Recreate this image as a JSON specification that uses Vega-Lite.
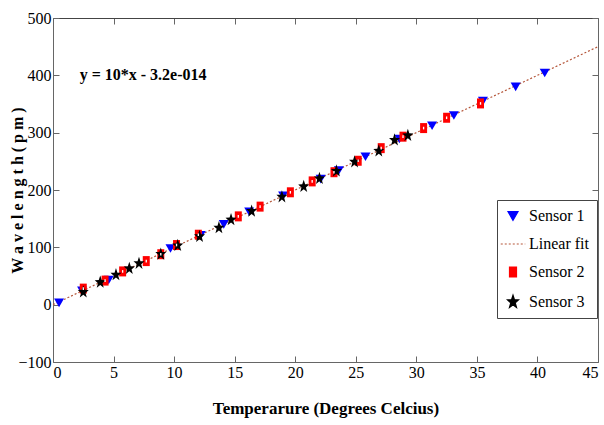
{
  "$schema": "https://vega.github.io/schema/vega-lite/v6.json",
  "autosize": "none",
  "width": 545,
  "height": 344,
  "padding": {"left": 53, "top": 18, "right": 6, "bottom": 63},
  "background": "white",
  "config": {
    "view": {"stroke": null},
    "font": "Liberation Serif",
    "legend": {"labelFont": "Liberation Serif, Times New Roman, serif", "labelFontSize": 16, "labelColor": "black"}
  },
  "datasets": {
    "fit": [
      {"temp": 0, "wl": 0, "series": "Linear fit"},
      {"temp": 45, "wl": 450, "series": "Linear fit"}
    ],
    "note": [
      {"temp": 2.2, "wl": 400, "label": "y = 10*x - 3.2e-014"}
    ],
    "pts": [
      {"temp": 0.5, "wl": 3, "series": "Sensor 1"},
      {"temp": 2.4, "wl": 24, "series": "Sensor 1"},
      {"temp": 4.6, "wl": 43, "series": "Sensor 1"},
      {"temp": 9.7, "wl": 98, "series": "Sensor 1"},
      {"temp": 12.2, "wl": 121, "series": "Sensor 1"},
      {"temp": 14.1, "wl": 140, "series": "Sensor 1"},
      {"temp": 16.2, "wl": 162, "series": "Sensor 1"},
      {"temp": 19.0, "wl": 190, "series": "Sensor 1"},
      {"temp": 22.1, "wl": 219, "series": "Sensor 1"},
      {"temp": 23.6, "wl": 234, "series": "Sensor 1"},
      {"temp": 25.8, "wl": 258, "series": "Sensor 1"},
      {"temp": 28.6, "wl": 289, "series": "Sensor 1"},
      {"temp": 31.3, "wl": 312, "series": "Sensor 1"},
      {"temp": 33.1, "wl": 330, "series": "Sensor 1"},
      {"temp": 35.5, "wl": 355, "series": "Sensor 1"},
      {"temp": 38.2, "wl": 380, "series": "Sensor 1"},
      {"temp": 40.6, "wl": 404, "series": "Sensor 1"},
      {"temp": 2.5, "wl": 28, "series": "Sensor 2"},
      {"temp": 4.3, "wl": 42, "series": "Sensor 2"},
      {"temp": 5.75, "wl": 58, "series": "Sensor 2"},
      {"temp": 7.7, "wl": 76, "series": "Sensor 2"},
      {"temp": 8.9, "wl": 88, "series": "Sensor 2"},
      {"temp": 10.2, "wl": 104, "series": "Sensor 2"},
      {"temp": 12.0, "wl": 122, "series": "Sensor 2"},
      {"temp": 15.3, "wl": 154, "series": "Sensor 2"},
      {"temp": 17.1, "wl": 171, "series": "Sensor 2"},
      {"temp": 19.6, "wl": 196, "series": "Sensor 2"},
      {"temp": 21.4, "wl": 215, "series": "Sensor 2"},
      {"temp": 23.2, "wl": 231, "series": "Sensor 2"},
      {"temp": 25.2, "wl": 251, "series": "Sensor 2"},
      {"temp": 27.1, "wl": 273, "series": "Sensor 2"},
      {"temp": 28.9, "wl": 293, "series": "Sensor 2"},
      {"temp": 30.6, "wl": 308, "series": "Sensor 2"},
      {"temp": 32.5, "wl": 326, "series": "Sensor 2"},
      {"temp": 35.3, "wl": 351, "series": "Sensor 2"},
      {"temp": 2.5, "wl": 22, "series": "Sensor 3"},
      {"temp": 3.9, "wl": 39, "series": "Sensor 3"},
      {"temp": 5.2, "wl": 52, "series": "Sensor 3"},
      {"temp": 6.3, "wl": 63, "series": "Sensor 3"},
      {"temp": 7.1, "wl": 72, "series": "Sensor 3"},
      {"temp": 8.9, "wl": 88, "series": "Sensor 3"},
      {"temp": 10.3, "wl": 103, "series": "Sensor 3"},
      {"temp": 12.1, "wl": 119, "series": "Sensor 3"},
      {"temp": 13.7, "wl": 134, "series": "Sensor 3"},
      {"temp": 14.7, "wl": 148, "series": "Sensor 3"},
      {"temp": 16.4, "wl": 163, "series": "Sensor 3"},
      {"temp": 18.9, "wl": 188, "series": "Sensor 3"},
      {"temp": 20.7, "wl": 206, "series": "Sensor 3"},
      {"temp": 22.0, "wl": 220, "series": "Sensor 3"},
      {"temp": 23.4, "wl": 233, "series": "Sensor 3"},
      {"temp": 24.9, "wl": 249, "series": "Sensor 3"},
      {"temp": 26.9, "wl": 268, "series": "Sensor 3"},
      {"temp": 28.2, "wl": 287, "series": "Sensor 3"},
      {"temp": 29.3, "wl": 295, "series": "Sensor 3"}
    ]
  },
  "resolve": {"axis": {"x": "independent", "y": "independent"}},
  "layer": [
    {
      "data": {"name": "fit"},
      "mark": {"type": "line", "strokeDash": [2, 2], "strokeWidth": 1.2},
      "encoding": {
        "x": {
          "field": "temp", "type": "quantitative",
          "scale": {"domain": [0, 45], "nice": false, "zero": false},
          "axis": {
            "orient": "bottom",
            "title": "Temperarure (Degrees Celcius)",
            "values": [0, 5, 10, 15, 20, 25, 30, 35, 40, 45],
            "grid": false,
            "domainColor": "#666", "tickColor": "#666",
            "tickSize": -6, "labelPadding": 8,
            "labelFont": "Liberation Serif", "labelFontSize": 16, "labelColor": "black",
            "titleFont": "Liberation Serif", "titleFontSize": 17, "titleFontWeight": "bold",
            "titleColor": "black", "titlePadding": 20
          }
        },
        "y": {
          "field": "wl", "type": "quantitative",
          "scale": {"domain": [-100, 500], "nice": false, "zero": false},
          "axis": {
            "orient": "left",
            "title": "W a v e l e n g t h   ( p m )",
            "values": [-100, 0, 100, 200, 300, 400, 500],
            "grid": false,
            "domainColor": "#666", "tickColor": "#666",
            "tickSize": -6, "labelPadding": 8,
            "labelFont": "Liberation Serif", "labelFontSize": 16, "labelColor": "black",
            "titleFont": "Liberation Serif", "titleFontSize": 16, "titleFontWeight": "bold",
            "titleColor": "black", "titlePadding": -8
          }
        },
        "color": {
          "field": "series", "type": "nominal",
          "scale": {
            "domain": ["Sensor 1", "Linear fit", "Sensor 2", "Sensor 3"],
            "range": ["#0000ff", "#b5563a", "#ff0000", "#000000"]
          },
          "legend": {
            "title": null,
            "orient": "none",
            "legendX": 444,
            "legendY": 182,
            "fillColor": "white",
            "strokeColor": "#444",
            "padding": 8,
            "rowPadding": 12,
            "labelFont": "Liberation Serif, Times New Roman, serif",
            "labelFontSize": 16,
            "labelColor": "black",
            "symbolSize": 100,
            "symbolStrokeWidth": 1.2,
            "labelOffset": 8,
            "encode": {
              "labels": {
                "update": {
                  "font": {"value": "Liberation Serif, Times New Roman, serif"},
                  "fontSize": {"value": 16},
                  "fill": {"value": "black"}
                }
              },
              "symbols": {
                "update": {
                  "fill": {"signal": "datum.value === 'Linear fit' ? 'transparent' : scale('color', datum.value)"},
                  "stroke": {"signal": "scale('color', datum.value)"},
                  "strokeDash": {"signal": "datum.value === 'Linear fit' ? [2, 2] : null"},
                  "size": {"signal": "datum.value === 'Linear fit' ? 600 : 100"},
                  "opacity": {"value": 1}
                }
              }
            }
          }
        }
      }
    },
    {
      "data": {"name": "pts"},
      "mark": {"type": "point", "filled": true, "opacity": 1, "size": 100},
      "encoding": {
        "x": {"field": "temp", "type": "quantitative",
          "axis": {"orient": "top", "labels": false, "title": null, "grid": false, "domainColor": "#444", "tickColor": "#666", "tickSize": -6, "values": [0, 5, 10, 15, 20, 25, 30, 35, 40, 45]}},
        "y": {"field": "wl", "type": "quantitative",
          "axis": {"orient": "right", "labels": false, "title": null, "grid": false, "domainColor": "#666", "tickColor": "#666", "tickSize": -6, "values": [-100, 0, 100, 200, 300, 400, 500]}},
        "color": {"field": "series", "type": "nominal"},
        "shape": {
          "field": "series", "type": "nominal",
          "scale": {
            "domain": ["Sensor 1", "Linear fit", "Sensor 2", "Sensor 3"],
            "range": ["triangle-down", "stroke", "M-0.7,-1H0.7V1H-0.7Z", "M0,-1.35L0.29,-0.44L1.1,-0.42L0.45,0.17L0.7,1.1L0,0.54L-0.7,1.1L-0.45,0.17L-1.1,-0.42L-0.29,-0.44Z"]
          },
          "legend": {
            "title": null,
            "orient": "none",
            "legendX": 444,
            "legendY": 182,
            "labelFont": "Liberation Serif, Times New Roman, serif",
            "labelFontSize": 16,
            "labelColor": "black"
          }
        }
      }
    },
    {
      "data": {"name": "pts"},
      "transform": [{"filter": "datum.series === 'Sensor 2'"}],
      "mark": {"type": "point", "filled": true, "color": "white", "opacity": 1, "size": 7, "shape": "M-0.5,-1H0.5V1H-0.5Z"},
      "encoding": {
        "x": {"field": "temp", "type": "quantitative", "axis": null},
        "y": {"field": "wl", "type": "quantitative", "axis": null}
      }
    },
    {
      "data": {"name": "note"},
      "mark": {"type": "text", "align": "left", "baseline": "middle", "font": "Liberation Serif", "fontSize": 16, "fontWeight": "bold", "color": "black"},
      "encoding": {
        "x": {"field": "temp", "type": "quantitative", "axis": null},
        "y": {"field": "wl", "type": "quantitative", "axis": null},
        "text": {"field": "label", "type": "nominal"}
      }
    }
  ]
}
